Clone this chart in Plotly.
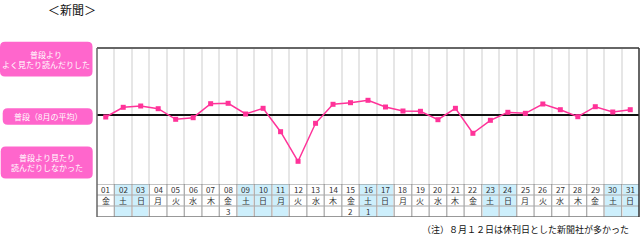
import plotly.graph_objects as go

days = [f"{d:02d}" for d in range(1, 32)]
weekdays = ["金", "土", "日", "月", "火", "水", "木", "金", "土", "日", "月",
            "火", "水", "木", "金", "土", "日", "月", "火", "水", "木", "金",
            "土", "日", "月", "火", "水", "木", "金", "土", "日"]
extra = {8: "3", 15: "2", 16: "1"}
shaded = [2, 3, 9, 10, 11, 16, 17, 23, 24, 30, 31]
values = [-1.7, 8.0, 9.3, 6.6, -4.0, -2.4, 11.6, 12.0, 1.3, 7.0, -16.4,
          -46.0, -8.0, 11.0, 12.6, 15.0, 8.3, 4.3, 4.0, -4.4, 7.0, -18.0,
          -5.0, 3.0, 2.0, 11.3, 5.6, -1.4, 8.6, 3.3, 5.6]
box_labels = ["普段より<br>よく見たり読んだりした", "普段（8月の平均）",
              "普段より見たり<br>読んだりしなかった"]
title = "＜新聞＞"
note = "（注）８月１２日は休刊日とした新聞社が多かった"

W, H = 640, 241
L, R, T, B = 97, 639, 48, 217
pw, ph = R - L, B - T
FONT = "Noto Sans CJK JP"

def px(x):
    return (x - L) / pw

def py(y):
    return (B - y) / ph

xs = list(range(1, 32))
fig = go.Figure()
fig.add_trace(go.Scatter(x=xs, y=values, mode="lines+markers",
                         line=dict(color="#ff3399", width=1.5),
                         marker=dict(symbol="square", size=5, color="#ff3399"),
                         xaxis="x", yaxis="y", hoverinfo="skip"))

shapes = []
annos = []
cell_font = dict(size=8, color="#333", family=FONT)
for i in xs:
    fill = "#cdeffc" if i in shaded else "rgba(0,0,0,0)"
    shapes.append(dict(type="rect", xref="x", yref="y2", x0=i - 0.5, x1=i + 0.5,
                       y0=0, y1=3, fillcolor=fill, line=dict(width=0), layer="below"))
    annos.append(dict(x=i, y=2.5, xref="x", yref="y2", text=days[i - 1], showarrow=False,
                      xanchor="center", yanchor="middle", font=cell_font))
    annos.append(dict(x=i, y=1.5, xref="x", yref="y2", text=weekdays[i - 1], showarrow=False,
                      xanchor="center", yanchor="middle", font=cell_font))
    if i in extra:
        annos.append(dict(x=i, y=0.5, xref="x", yref="y2", text=extra[i], showarrow=False,
                          xanchor="center", yanchor="middle", font=cell_font))
for i in range(1, 31):
    shapes.append(dict(type="line", xref="x", yref="y2", x0=i + 0.5, x1=i + 0.5, y0=0, y1=3,
                       line=dict(color="#aaaaaa", width=1)))
for r in [1, 2]:
    shapes.append(dict(type="line", xref="x", yref="y2", x0=0.5, x1=31.5, y0=r, y1=r,
                       line=dict(color="#aaaaaa", width=1)))
shapes.append(dict(type="line", xref="x", yref="y2", x0=0.5, x1=31.5, y0=3, y1=3,
                   line=dict(color="#888888", width=1)))
shapes.append(dict(type="line", xref="x", yref="y2", x0=0.5, x1=31.5, y0=0, y1=0,
                   line=dict(color="#777777", width=1.5)))
shapes.append(dict(type="line", xref="paper", yref="paper", x0=0, x1=1, y0=1, y1=1,
                   line=dict(color="#666666", width=2)))
shapes.append(dict(type="line", xref="paper", yref="paper", x0=0, x1=0, y0=0, y1=1,
                   line=dict(color="#666666", width=1.5)))
shapes.append(dict(type="line", xref="paper", yref="paper", x0=1, x1=1, y0=0, y1=1,
                   line=dict(color="#333333", width=1.5)))

def rrect(x0, y0, x1, y1, r=5):
    a, b, c, d = px(x0), px(x1), py(y0), py(y1)
    rx, ry = r / pw, r / ph
    return (f"M {a+rx},{c} L {b-rx},{c} Q {b},{c} {b},{c-ry} L {b},{d+ry} Q {b},{d} {b-rx},{d} "
            f"L {a+rx},{d} Q {a},{d} {a},{d+ry} L {a},{c-ry} Q {a},{c} {a+rx},{c} Z")

boxes = [(0, 41.7, 92.5, 76.5), (2.7, 108.3, 92.7, 124.7), (0.7, 146.5, 92.7, 178.5)]
for (x0, y0, x1, y1), lab in zip(boxes, box_labels):
    shapes.append(dict(type="path", xref="paper", yref="paper", path=rrect(x0, y0, x1, y1),
                       fillcolor="#ff66cc", line=dict(width=0)))
    annos.append(dict(x=px((x0 + x1) / 2), y=py((y0 + y1) / 2), xref="paper", yref="paper",
                      text=lab, showarrow=False, align="center",
                      xanchor="center", yanchor="middle",
                      font=dict(size=8, color="#ffffff", family=FONT)))

annos.append(dict(x=px(72), y=py(10), xref="paper", yref="paper", text=title, showarrow=False,
                  xanchor="center", yanchor="middle",
                  font=dict(size=12, color="#111", family=FONT)))
annos.append(dict(x=px(631), y=py(229), xref="paper", yref="paper", text=note, showarrow=False,
                  xanchor="right", yanchor="middle",
                  font=dict(size=9, color="#111", family=FONT)))

tdom = (B - 184) / ph
fig.update_layout(
    width=W, height=H, margin=dict(l=L, r=W - R, t=T, b=H - B),
    paper_bgcolor="white", plot_bgcolor="white", showlegend=False,
    xaxis=dict(range=[0.5, 31.5], tickvals=[i + 0.5 for i in range(1, 31)],
               showticklabels=False, showgrid=True, gridcolor="#e6e6e6", gridwidth=2,
               zeroline=False, showline=False, ticks="", anchor="y"),
    yaxis=dict(domain=[tdom, 1], range=[-68.7, 67.3], showgrid=False, showticklabels=False,
               zeroline=True, zerolinecolor="#111111", zerolinewidth=2, ticks="", showline=False),
    yaxis2=dict(domain=[0, tdom], range=[0, 3], showgrid=False, showticklabels=False,
                zeroline=False, ticks="", showline=False),
    shapes=shapes, annotations=annos,
)
fig.write_html("out.html")
